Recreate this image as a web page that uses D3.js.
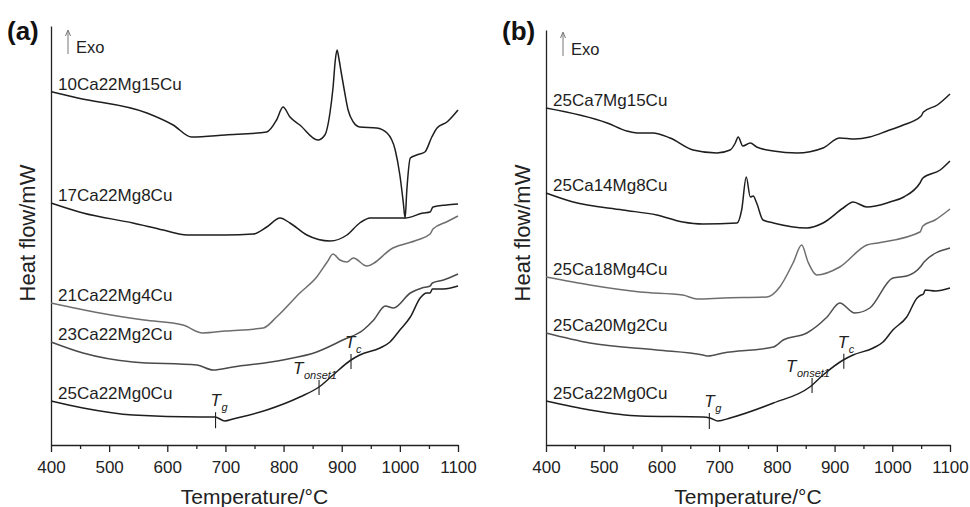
<!DOCTYPE html>
<html>
<head>
<meta charset="utf-8">
<script src="https://cdn.jsdelivr.net/npm/d3@7"></script>
<style>
  html, body { margin: 0; padding: 0; background: #fff; }
  svg { display: block; font-family: "Liberation Sans", Arial, Helvetica, sans-serif; }
</style>
</head>
<body>
<svg id="chart" width="970" height="507"></svg>
<script>
// DSC traces: [temperature °C, heat flow (arbitrary offset units)]
const ca10Mg22Cu15 = [[400,35.33],[446,34.7],[565,33.2],[610,32.0],[642,30.8],[700,31.0],[771,31.3],[788,32.5],[799,33.8],[811,32.8],[828,32.0],[859,30.5],[871,31.0],[880,33.3],[885,35.7],[889,38.5],[892,39.5],[895,38.7],[899,37.3],[905,35.3],[911,33.5],[920,32.3],[931,31.8],[960,31.7],[978,31.2],[992,29.5],[1000,27.0],[1006,24.2],[1009,22.7],[1012,25.5],[1018,28.7],[1029,29.0],[1043,29.3],[1055,30.8],[1064,31.7],[1081,32.3],[1100,33.5]];
const ca17Mg22Cu8 = [[400,24.2],[455,23.2],[541,22.2],[593,21.5],[634,21.0],[700,21.0],[748,21.1],[771,21.8],[794,22.7],[811,22.2],[840,21.0],[880,20.4],[909,21.0],[931,22.2],[949,22.7],[980,22.7],[1009,22.7],[1040,23.2],[1052,23.3],[1057,23.8],[1080,24.0],[1100,24.1]];
const ca21Mg22Cu4 = [[400,14.2],[484,13.2],[560,12.5],[627,12.0],[661,11.2],[700,11.4],[765,11.7],[788,12.8],[828,15.2],[857,16.8],[875,18.3],[885,19.1],[897,18.5],[909,18.3],[920,18.7],[943,17.9],[988,19.7],[1030,20.5],[1052,21.1],[1057,21.6],[1080,22.3],[1100,22.9]];
const ca23Mg22Cu2 = [[400,10.3],[455,9.2],[541,8.3],[651,8.0],[679,7.5],[713,7.8],[799,8.5],[857,9.3],[902,10.5],[937,11.5],[955,12.5],[975,13.9],[989,13.7],[1018,15.2],[1038,15.7],[1052,15.9],[1056,16.2],[1075,16.5],[1100,17.1]];
const ca25Mg22Cu0 = [[400,4.4],[455,3.7],[541,3.0],[656,2.8],[682,2.8],[699,2.4],[713,2.6],[771,3.5],[828,4.8],[861,5.8],[885,7.0],[916,8.5],[931,9.0],[966,9.7],[983,10.3],[1000,11.5],[1018,12.8],[1035,14.7],[1046,15.2],[1052,15.2],[1056,15.6],[1075,15.6],[1100,15.9]];

const ca25Mg7Cu15 = [[400,33.7],[506,32.2],[540,31.4],[558,31.2],[585,31.2],[615,30.7],[655,29.5],[696,29.2],[719,29.5],[728,30.2],[733,30.8],[741,29.9],[754,30.2],[765,29.8],[794,29.4],[835,29.2],[880,29.7],[909,30.7],[935,30.6],[961,30.8],[991,31.4],[1019,32.0],[1050,32.9],[1054,33.3],[1078,34.0],[1100,35.1]];
const ca25Mg14Cu8 = [[400,25.2],[447,24.3],[533,23.5],[592,23.0],[637,22.3],[672,22.1],[731,22.2],[739,23.5],[747,26.8],[754,24.8],[759,24.9],[765,24.2],[776,22.5],[794,22.2],[852,21.7],[880,22.2],[915,23.7],[932,24.3],[956,23.8],[996,24.3],[1020,24.8],[1048,26.2],[1053,26.7],[1083,27.5],[1100,28.4]];
const ca25Mg18Cu4 = [[400,16.8],[476,16.0],[563,15.3],[637,15.0],[662,14.6],[707,14.7],[783,14.8],[805,15.8],[828,18.2],[843,20.0],[854,18.3],[869,17.0],[909,17.8],[956,20.0],[975,20.2],[1048,21.3],[1053,21.9],[1074,22.5],[1100,23.6]];
const ca25Mg20Cu2 = [[400,11.2],[476,10.2],[592,9.5],[672,9.0],[681,8.9],[707,9.2],[794,9.8],[811,10.5],[852,11.2],[887,12.8],[909,14.2],[935,13.2],[961,13.7],[1001,16.7],[1025,16.9],[1050,17.9],[1055,18.3],[1100,19.7]];
const ca25Mg22Cu0b = [[400,4.4],[476,3.5],[563,2.9],[672,2.8],[684,2.7],[698,2.4],[719,2.7],[794,4.2],[857,5.8],[880,7.0],[915,8.5],[932,9.0],[967,9.7],[984,10.3],[1001,11.5],[1025,12.8],[1043,14.7],[1050,15.0],[1054,15.1],[1057,15.5],[1075,15.4],[1100,15.7]];

const seriesA = [ca10Mg22Cu15, ca17Mg22Cu8, ca21Mg22Cu4, ca23Mg22Cu2, ca25Mg22Cu0];
const seriesB = [ca25Mg7Cu15, ca25Mg14Cu8, ca25Mg18Cu4, ca25Mg20Cu2, ca25Mg22Cu0b];
const labelsA = ["10Ca22Mg15Cu", "17Ca22Mg8Cu", "21Ca22Mg4Cu", "23Ca22Mg2Cu", "25Ca22Mg0Cu"];
const labelsB = ["25Ca7Mg15Cu", "25Ca14Mg8Cu", "25Ca18Mg4Cu", "25Ca20Mg2Cu", "25Ca22Mg0Cu"];
const seriesColors = ["#1e1e1e", "#1e1e1e", "#6e6e6e", "#4a4a4a", "#1e1e1e"];
const seriesColorsB = ["#1e1e1e", "#1e1e1e", "#6e6e6e", "#4f4f4f", "#1e1e1e"];

const xTicks = [400, 500, 600, 700, 800, 900, 1000, 1100];
const xMinorTicks = [450, 550, 650, 750, 850, 950, 1050];

// characteristic temperatures marked on the Mg0Cu trace
const markTemps = [683, 861, 916];
const markNames = ["g", "onset1", "c"];

const svg = d3.select("#chart");
const yScale = d3.scaleLinear().domain([0, 42]).range([445, 25]);

function interp(data, t) {
  for (let i = 1; i < data.length; i++) {
    if (data[i][0] >= t) {
      const a = data[i - 1], b = data[i];
      return a[1] + (b[1] - a[1]) * (t - a[0]) / (b[0] - a[0]);
    }
  }
  return data[data.length - 1][1];
}

function drawPanel(cfg) {
  const x = d3.scaleLinear().domain([400, 1100]).range(cfg.xRange);
  const g = svg.append("g");

  // minor ticks
  g.append("g")
    .attr("transform", `translate(0,${yScale(0)})`)
    .call(d3.axisBottom(x).tickValues(xMinorTicks).tickSize(4).tickSizeOuter(0).tickFormat(""))
    .call(s => s.select(".domain").remove())
    .call(s => s.selectAll("line").attr("stroke", "#222").attr("stroke-width", 1.3));

  // major ticks + labels
  g.append("g")
    .attr("transform", `translate(0,${yScale(0)})`)
    .call(d3.axisBottom(x).tickValues(xTicks).tickSize(7).tickSizeOuter(0).tickPadding(9).tickFormat(d3.format("d")))
    .call(s => s.select(".domain").attr("stroke", "#222").attr("stroke-width", 1.3))
    .call(s => s.selectAll("line").attr("stroke", "#222").attr("stroke-width", 1.3))
    .call(s => s.selectAll("text").attr("font-size", 17).attr("fill", "#222")
      .attr("font-family", "'Liberation Sans', Arial, sans-serif"));

  // y axis (no ticks)
  g.append("g")
    .attr("transform", `translate(${cfg.xRange[0]},0)`)
    .call(d3.axisLeft(yScale.copy().range([445, cfg.yTop])).tickValues([]).tickSizeOuter(0))
    .call(s => s.select(".domain").attr("stroke", "#222").attr("stroke-width", 1.3));

  // axis titles
  g.append("text")
    .attr("x", (cfg.xRange[0] + cfg.xRange[1]) / 2)
    .attr("y", 504)
    .attr("text-anchor", "middle")
    .attr("font-size", 21)
    .attr("fill", "#222")
    .text("Temperature/°C");

  g.append("text")
    .attr("transform", `translate(${cfg.xRange[0] - 16},233) rotate(-90)`)
    .attr("text-anchor", "middle")
    .attr("font-size", 22)
    .attr("fill", "#222")
    .text("Heat flow/mW");

  // panel letter
  g.append("text")
    .attr("x", cfg.letterX)
    .attr("y", 40)
    .attr("font-size", 26)
    .attr("font-weight", "bold")
    .attr("fill", "#111")
    .text(cfg.letter);

  // exo arrow
  const ax = cfg.xRange[0] + 17;
  g.append("path")
    .attr("d", `M${ax},${cfg.exoY + 1}V${cfg.exoY - 22}M${ax - 2.5},${cfg.exoY - 17}L${ax},${cfg.exoY - 23}L${ax + 2.5},${cfg.exoY - 17}`)
    .attr("fill", "none")
    .attr("stroke", "#777")
    .attr("stroke-width", 1);
  g.append("text")
    .attr("x", ax + 8)
    .attr("y", cfg.exoY)
    .attr("font-size", 16.5)
    .attr("fill", "#222")
    .text("Exo");

  // traces
  const line = d3.line()
    .x(d => x(d[0]))
    .y(d => yScale(d[1]))
    .curve(d3.curveMonotoneX);

  cfg.series.forEach((data, i) => {
    g.append("path")
      .datum(data)
      .attr("d", line)
      .attr("fill", "none")
      .attr("stroke", cfg.colors[i])
      .attr("stroke-width", 1.5)
      .attr("stroke-linejoin", "round");

    g.append("text")
      .attr("x", x(400) + 7)
      .attr("y", yScale(data[0][1]) - 2)
      .attr("font-size", 17)
      .attr("fill", "#1e1e1e")
      .text(cfg.labels[i]);
  });

  // characteristic temperature marks on the last trace
  const base = cfg.series[cfg.series.length - 1];
  const tickSpan = [[-5, 11], [-7, 8], [-6, 9]];
  const labelShift = [-5, -26, -6];
  markTemps.forEach((t, i) => {
    const cx = x(t);
    const cy = yScale(interp(base, t));
    const top = cy + tickSpan[i][0];
    g.append("line")
      .attr("x1", cx).attr("x2", cx)
      .attr("y1", top).attr("y2", cy + tickSpan[i][1])
      .attr("stroke", "#222").attr("stroke-width", 1.1);
    const txt = g.append("text")
      .attr("x", cx + labelShift[i])
      .attr("y", top - 6)
      .attr("fill", "#222")
      .attr("font-style", "italic");
    txt.append("tspan").attr("font-size", 17).text("T");
    txt.append("tspan").attr("font-size", 11).attr("dy", 5).attr("dx", 0.5).text(markNames[i]);
  });
}

drawPanel({
  xRange: [51, 458], series: seriesA, labels: labelsA, colors: seriesColors,
  letter: "(a)", letterX: 7, exoY: 53, yTop: 26
});
drawPanel({
  xRange: [546, 950], series: seriesB, labels: labelsB, colors: seriesColorsB,
  letter: "(b)", letterX: 502, exoY: 55, yTop: 30
});
</script>
</body>
</html>
